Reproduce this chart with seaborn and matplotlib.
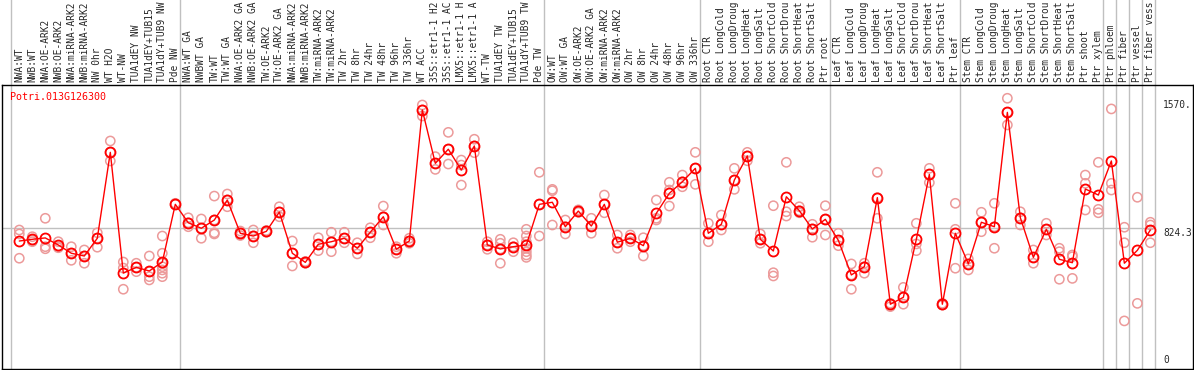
import numpy as np
import pandas as pd
import matplotlib
matplotlib.use('Agg')
import matplotlib.pyplot as plt
import seaborn as sns

gene = 'Potri.013G126300'

labels = [
    # NW
    'NWA:WT', 'NWB:WT', 'NWA:OE-ARK2', 'NWB:OE-ARK2', 'NWA:miRNA-ARK2', 'NWB:miRNA-ARK2',
    'NW 0hr', 'WT H2O', 'WT-NW', 'TUA1dEY NW', 'TUA1dEY+TUB15 NW', 'TUA1dY+TUB9 NW', 'Pde NW',
    # TW
    'NWA:WT GA', 'NWBWT GA', 'TW:WT', 'TW:WT GA', 'NWA:OE-ARK2 GA', 'NWB:OE-ARK2 GA',
    'TW:OE-ARK2', 'TW:OE-ARK2 GA', 'NWA:miRNA-ARK2', 'NWB:miRNA-ARK2', 'TW:miRNA-ARK2',
    'TW:miRNA-ARK2', 'TW 2hr', 'TW 8hr', 'TW 24hr', 'TW 48hr', 'TW 96hr', 'TW 336hr',
    'WT ACC', '35S::etr1-1 H2O', '35S::etr1-1 ACC', 'LMX5::etr1-1 H2O', 'LMX5::etr1-1 ACC',
    'WT-TW', 'TUA1dEY TW', 'TUA1dEY+TUB15 TW', 'TUA1dY+TUB9 TW', 'Pde TW',
    # OW
    'OW:WT', 'OW:WT GA', 'OW:OE-ARK2', 'OW:OE-ARK2 GA', 'OW:miRNA-ARK2', 'OW:miRNA-ARK2',
    'OW 2hr', 'OW 8hr', 'OW 24hr', 'OW 48hr', 'OW 96hr', 'OW 336hr',
    # root
    'Root CTR', 'Root LongCold', 'Root LongDrought', 'Root LongHeat', 'Root LongSalt',
    'Root ShortCold', 'Root ShortDrought', 'Root ShortHeat', 'Root ShortSalt', 'Ptr root',
    # leaf
    'Leaf CTR', 'Leaf LongCold', 'Leaf LongDrought', 'Leaf LongHeat', 'Leaf LongSalt',
    'Leaf ShortCold', 'Leaf ShortDrought', 'Leaf ShortHeat', 'Leaf ShortSalt', 'Ptr leaf',
    # stem
    'Stem CTR', 'Stem LongCold', 'Stem LongDrought', 'Stem LongHeat', 'Stem LongSalt',
    'Stem ShortCold', 'Stem ShortDrought', 'Stem ShortHeat', 'Stem ShortSalt', 'Ptr shoot',
    'Ptr xylem',
    # cell types
    'Ptr phloem', 'Ptr fiber', 'Ptr vessel', 'Ptr fiber vessel',
]

means = [
    749, 759, 767, 726, 678, 662, 765, 1264, 563, 596, 575, 627, 962,
    855, 823, 871, 987, 794, 778, 805, 917, 678, 625, 730, 745, 765, 707, 800, 890, 701, 749,
    1510, 1200, 1282, 1161, 1301, 726, 703, 716, 726, 962,
    974, 832, 923, 836, 962, 742, 765, 722, 910, 1026, 1093, 1171,
    794, 846, 1103, 1243, 759, 691, 1006, 925, 819, 875,
    753, 552, 600, 1001, 382, 422, 759, 1136, 382, 794,
    616, 858, 832, 1496, 884, 654, 817, 643, 623, 1051, 1016,
    1214, 620, 695, 813,
]

reps = [
    [813, 790, 649], [774, 755, 745], [881, 716, 704], [745, 716, 710], [716, 678, 637],
    [697, 662, 620], [797, 765, 713], [1330, 1264, 1214], [627, 592, 469], [620, 596, 571],
    [662, 571, 542, 523], [778, 678, 620, 600, 581, 562, 542], [968, 962],
    [884, 855, 832], [877, 823, 765], [1010, 871, 797, 790], [1022, 987, 948], [807, 794, 781],
    [813, 778, 739], [810, 805, 800], [948, 917, 890], [749, 678, 604], [630, 625, 620],
    [768, 730, 693], [800, 745, 687], [800, 765, 739], [739, 707, 674], [826, 800, 768],
    [952, 890, 842], [716, 701, 678], [765, 749, 736], [1539, 1510, 1475], [1239, 1200, 1165],
    [1380, 1282, 1196], [1219, 1190, 1074], [1340, 1301, 1262], [745, 726, 701],
    [759, 736, 703, 620], [739, 716, 687], [817, 778, 745, 726, 707, 687, 668, 654],
    [1148, 962, 778],
    [1049, 1041, 842], [871, 832, 790], [930, 923, 916], [881, 836, 794], [1016, 962, 913],
    [784, 742, 707], [784, 765, 745], [768, 722, 662], [987, 881, 871], [1090, 1045, 952],
    [1132, 1093, 1064], [1264, 1171, 1078],
    [852, 794, 745], [900, 846, 813], [1171, 1103, 1049], [1264, 1243, 1215], [790, 759, 736],
    [954, 565, 546], [1206, 919, 894], [948, 925, 913], [846, 819, 771], [954, 875, 784],
    [794, 753, 722], [616, 552, 469], [620, 600, 562], [1148, 1001, 881], [387, 382, 368],
    [480, 422, 382], [852, 732, 693], [1171, 1136, 1088], [387, 382, 377], [968, 817, 591],
    [645, 616, 581], [916, 858, 803], [968, 832, 707], [1578, 1496, 1423], [919, 884, 842],
    [697, 654, 620], [852, 817, 784], [707, 687, 527], [668, 658, 532], [1132, 1084, 929],
    [1206, 933, 913],
    [1516, 1084, 1045], [829, 739, 285], [1003, 387], [858, 842, 739],
]

group_starts = [0, 13, 41, 53, 63, 73, 84, 85, 86, 87, 88]
ref_value = 824.3
top_label = '1570.'
max_chars = 14  # the original chart cuts sample names at 14 characters

# long-form tables for seaborn
mean_df = pd.DataFrame({'pos': np.arange(len(labels)), 'value': means})
rep_df = pd.DataFrame([(i, v) for i, vals in enumerate(reps) for v in vals],
                      columns=['pos', 'value'])

sns.set_style('white')
mono = 'DejaVu Sans Mono'
fs = 6.85

W, H = 1194, 370
fig = plt.figure(figsize=(W / 100, H / 100), dpi=100)
ax = fig.add_axes([1.5 / W, 1 / H, 1191.5 / W, 284 / H])

# group separators run through the label area too
for g in group_starts:
    ax.axvline(g - 0.64, ymin=-0.01, ymax=1 + 86 / 284, color='#c0c0c0', lw=1,
               clip_on=False, zorder=0)
ax.hlines(ref_value, -1.4, group_starts[-1] - 0.64, color='#c0c0c0', lw=1, zorder=0)

sns.scatterplot(data=rep_df, x='pos', y='value', ax=ax, marker='o', s=44,
                facecolor='none', edgecolor='#ec9a9a', linewidth=1.1, zorder=2)
sns.lineplot(data=mean_df, x='pos', y='value', ax=ax, color='red', lw=1,
             marker='o', markersize=7.2, markerfacecolor='none',
             markeredgecolor='red', markeredgewidth=1.3, zorder=3)

ax.set_xlim(-1.369, 90.28)
ax.set_ylim(5.8, 1655)
ax.set_xticks([])
ax.set_yticks([])
ax.set_xlabel('')
ax.set_ylabel('')
for sp in ax.spines.values():
    sp.set_color('black')
    sp.set_linewidth(1)

for i, lab in enumerate(labels):
    ax.text(i, 1.0106, lab[:max_chars].rstrip(), transform=ax.get_xaxis_transform(),
            rotation=90, ha='center', va='bottom', fontsize=fs, family=mono, clip_on=False)

ax.text(-0.715, 1587, gene, color='red', va='center', ha='left', fontsize=7.2,
        family=mono)

ax.text(0.9748, 1570, top_label, transform=ax.get_yaxis_transform(), va='top',
        ha='left', fontsize=fs, family=mono)
ax.text(0.9748, ref_value, f'{ref_value}', transform=ax.get_yaxis_transform(),
        va='top', ha='left', fontsize=fs, family=mono)
ax.text(0.9748, 30, '0', transform=ax.get_yaxis_transform(), va='bottom',
        ha='left', fontsize=fs, family=mono)

fig.savefig('out.png', dpi=100)
